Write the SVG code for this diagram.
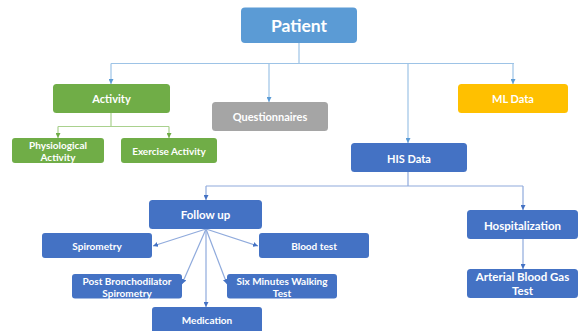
<svg xmlns="http://www.w3.org/2000/svg" width="578" height="331" viewBox="0 0 578 331">
<defs>
<marker id="ab" viewBox="0 0 6 6" refX="6" refY="3" markerWidth="5" markerHeight="5" orient="auto" markerUnits="userSpaceOnUse"><path d="M0,0 L6,3 L0,6 z" fill="#5B9BD5"/></marker>
<marker id="ag" viewBox="0 0 6 6" refX="6" refY="3" markerWidth="5" markerHeight="5" orient="auto" markerUnits="userSpaceOnUse"><path d="M0,0 L6,3 L0,6 z" fill="#70AD47"/></marker>
<marker id="ad" viewBox="0 0 6 6" refX="6" refY="3" markerWidth="5" markerHeight="5" orient="auto" markerUnits="userSpaceOnUse"><path d="M0,0 L6,3 L0,6 z" fill="#4472C4"/></marker>
</defs>
<style>
text{font-family:Lato,"Open Sans","Liberation Sans",sans-serif;font-weight:bold;fill:#fff;text-anchor:middle;dominant-baseline:central}
.c{fill:none;stroke-width:1.2}
.lb{stroke:#9DC3E6;marker-end:url(#ab)}
.lbn{stroke:#9DC3E6}
.lg{stroke:#A9D18E;marker-end:url(#ag)}
.lgn{stroke:#A9D18E}
.ld{stroke:#8FAADC;marker-end:url(#ad)}
.ldn{stroke:#8FAADC}
.blue{fill:#4472C4}
.s{font-size:10px}
.m{font-size:11px}
.l{font-size:11.5px}
</style>
<g id="connectors">
<path class="c lbn" d="M299,43 V63.5 M111,63.5 H514"/>
<path class="c lb" d="M111,63.5 V84"/>
<path class="c lb" d="M269,63.5 V102"/>
<path class="c lb" d="M408,63.5 V143"/>
<path class="c lb" d="M513,63.5 V84"/>
<path class="c lgn" d="M111,113 V126.5 M58,126.5 H169"/>
<path class="c lg" d="M58,126.5 V138"/>
<path class="c lg" d="M169,126.5 V138"/>
<path class="c ldn" d="M408,172 V186 M206,186 H523"/>
<path class="c ld" d="M206,186 V200"/>
<path class="c ld" d="M523,186 V210"/>
<path class="c ld" d="M523,239 V269"/>
<path class="c ld" d="M206,229 L153,246"/>
<path class="c ld" d="M206,229 L258,246"/>
<path class="c ld" d="M206,229 L182,284"/>
<path class="c ld" d="M206,229 L227,284"/>
<path class="c ld" d="M206,229 V307"/>
</g>
<g id="patient"><rect x="241" y="7.5" width="116" height="35.5" rx="4" fill="#5B9BD5"/><text x="299" y="25.5" font-size="17.5">Patient</text></g>
<g id="activity"><rect x="53" y="84" width="117" height="29" rx="3.5" fill="#70AD47"/><text x="111.5" y="98.5" class="m">Activity</text></g>
<g id="questionnaires"><rect x="212" y="102" width="116" height="29" rx="3.5" fill="#A5A5A5"/><text x="270" y="116.5" class="m">Questionnaires</text></g>
<g id="ml-data"><rect x="458" y="84" width="110" height="29" rx="3.5" fill="#FFC000"/><text x="513" y="98.5" class="m">ML Data</text></g>
<g id="physiological-activity"><rect x="12" y="138" width="92" height="25" rx="3" fill="#70AD47"/><text x="58" y="145" class="s">Physiological</text><text x="58" y="157" class="s">Activity</text></g>
<g id="exercise-activity"><rect x="121" y="138" width="96" height="25" rx="3" fill="#70AD47"/><text x="169" y="151" class="s">Exercise Activity</text></g>
<g id="his-data"><rect x="351" y="143" width="116" height="29" rx="3.5" class="blue"/><text x="409" y="158" class="m">HIS Data</text></g>
<g id="follow-up"><rect x="149" y="200" width="113" height="29" rx="3.5" class="blue"/><text x="205.5" y="214.5" class="l">Follow up</text></g>
<g id="hospitalization"><rect x="467" y="210" width="111" height="29" rx="3.5" class="blue"/><text x="522.5" y="225" class="l">Hospitalization</text></g>
<g id="arterial-blood-gas-test"><rect x="467" y="269" width="111" height="29" rx="3.5" class="blue"/><text x="522.5" y="276.5" class="l">Arterial Blood Gas</text><text x="522.5" y="290.5" class="l">Test</text></g>
<g id="spirometry"><rect x="42" y="233" width="110" height="25" rx="3" class="blue"/><text x="97" y="246" class="s">Spirometry</text></g>
<g id="blood-test"><rect x="259" y="233" width="110" height="25" rx="3" class="blue"/><text x="314" y="246" class="s">Blood test</text></g>
<g id="post-bronchodilator-spirometry"><rect x="72" y="274" width="110" height="24.5" rx="3" class="blue"/><text x="127" y="280.5" class="s">Post Bronchodilator</text><text x="127" y="293" class="s">Spirometry</text></g>
<g id="six-minutes-walking-test"><rect x="227" y="274" width="110" height="24.5" rx="3" class="blue"/><text x="282" y="280.5" class="s">Six Minutes Walking</text><text x="282" y="293" class="s">Test</text></g>
<g id="medication"><rect x="152" y="307" width="110" height="28" rx="3" class="blue"/><text x="207" y="320" class="s">Medication</text></g>
</svg>
